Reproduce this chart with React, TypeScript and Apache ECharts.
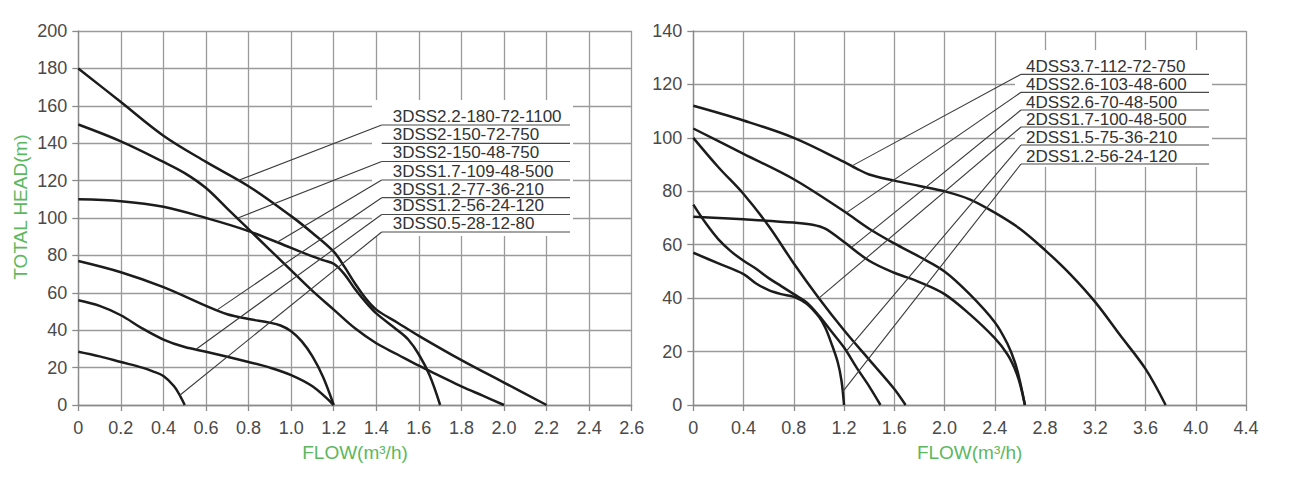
import React, { useEffect, useRef } from "react";
import * as echarts from "echarts";

// ---------- DATA ----------
const xTicksLeft = ["0", "0.2", "0.4", "0.6", "0.8", "1.0", "1.2", "1.4", "1.6", "1.8", "2.0", "2.2", "2.4", "2.6"];
const yTicksLeft = ["0", "20", "40", "60", "80", "100", "120", "140", "160", "180", "200"];
const xTicksRight = ["0", "0.4", "0.8", "1.2", "1.6", "2.0", "2.4", "2.8", "3.2", "3.6", "4.0", "4.4"];
const yTicksRight = ["0", "20", "40", "60", "80", "100", "120", "140"];

const xAxisName = "FLOW(m³/h)";
const yAxisName = "TOTAL HEAD(m)";

// Left chart curves [flow, head]
const c3DSS22_180 = [[0, 180], [0.2, 162], [0.4, 144], [0.6, 130], [0.8, 117], [1.0, 101], [1.1, 92], [1.2, 82], [1.25, 74], [1.3, 65], [1.35, 57], [1.4, 51], [1.5, 44], [1.6, 37], [1.8, 24], [2.0, 12], [2.2, 0]];
const c3DSS2_150 = [[0, 150], [0.2, 141], [0.4, 130], [0.5, 124], [0.6, 116], [0.7, 105], [0.8, 94], [0.9, 83], [1.0, 72], [1.1, 61], [1.2, 51], [1.3, 41], [1.4, 33], [1.5, 27], [1.6, 21], [1.7, 15.5], [1.8, 10], [1.9, 5], [2.0, 0]];
const c3DSS17_109 = [[0, 110], [0.2, 109], [0.4, 106], [0.6, 100], [0.8, 93], [1.0, 84], [1.1, 79.5], [1.15, 77.5], [1.2, 75.5], [1.25, 70], [1.3, 62], [1.35, 55], [1.4, 49], [1.5, 40], [1.55, 35], [1.6, 27], [1.65, 16], [1.7, 0]];
const c3DSS12_77 = [[0, 77], [0.2, 71], [0.4, 63], [0.6, 53], [0.7, 48.5], [0.8, 46], [0.9, 44], [0.95, 42.5], [1.0, 39.5], [1.05, 34], [1.1, 26], [1.15, 15], [1.2, 0]];
const c3DSS12_56 = [[0, 56], [0.1, 53], [0.2, 48], [0.3, 41], [0.4, 35], [0.5, 31], [0.6, 28.5], [0.8, 23], [0.9, 20], [1.0, 16], [1.1, 10], [1.2, 0]];
const c3DSS05_28 = [[0, 28.5], [0.1, 26], [0.2, 23], [0.3, 20], [0.35, 18], [0.4, 15.5], [0.45, 10], [0.48, 4.5], [0.5, 0]];

// Right chart curves [flow, head]
const c4DSS37_112 = [[0, 112], [0.4, 106.5], [0.8, 100], [1.2, 91], [1.3, 88.5], [1.4, 86.3], [1.6, 84], [1.8, 82], [2.0, 80], [2.2, 77], [2.4, 72], [2.6, 66], [2.8, 58], [3.0, 49], [3.2, 38.5], [3.4, 26], [3.6, 13.5], [3.76, 0]];
const c4DSS26_103 = [[0, 103.5], [0.4, 94], [0.8, 84.5], [1.2, 72.5], [1.4, 66], [1.6, 60.5], [1.8, 55.5], [2.0, 50], [2.2, 41.5], [2.4, 31], [2.5, 23], [2.56, 16], [2.6, 9], [2.64, 0]];
const c4DSS26_70 = [[0, 70.5], [0.4, 69.5], [0.8, 68.3], [0.95, 67.5], [1.05, 66], [1.2, 61], [1.4, 54], [1.6, 49.5], [1.8, 46], [2.0, 41.5], [2.2, 34], [2.4, 25], [2.5, 19], [2.56, 13.5], [2.6, 8], [2.64, 0]];
const c2DSS17_100 = [[0, 100], [0.2, 89], [0.4, 79], [0.6, 67], [0.8, 53], [1.0, 40], [1.2, 28], [1.4, 17], [1.6, 6], [1.69, 0]];
const c2DSS15_75 = [[0, 75], [0.1, 68], [0.2, 62], [0.3, 57.5], [0.4, 54], [0.5, 51], [0.6, 47.5], [0.7, 44.5], [0.8, 41.5], [0.9, 38.5], [1.0, 33.5], [1.1, 27.5], [1.2, 21.5], [1.3, 14], [1.4, 7], [1.49, 0]];
const c2DSS12_56 = [[0, 57], [0.2, 53], [0.4, 49], [0.5, 45.5], [0.6, 43], [0.7, 41.5], [0.8, 40.5], [0.9, 38], [1.0, 33], [1.05, 29], [1.1, 23], [1.15, 16], [1.18, 9], [1.2, 0]];

const leftCurves = [c3DSS22_180, c3DSS2_150, c3DSS17_109, c3DSS12_77, c3DSS12_56, c3DSS05_28];
const rightCurves = [c4DSS37_112, c4DSS26_103, c4DSS26_70, c2DSS17_100, c2DSS15_75, c2DSS12_56];

const leftLabels = ["3DSS2.2-180-72-1100", "3DSS2-150-72-750", "3DSS2-150-48-750", "3DSS1.7-109-48-500", "3DSS1.2-77-36-210", "3DSS1.2-56-24-120", "3DSS0.5-28-12-80"];
const rightLabels = ["4DSS3.7-112-72-750", "4DSS2.6-103-48-600", "4DSS2.6-70-48-500", "2DSS1.7-100-48-500", "2DSS1.5-75-36-210", "2DSS1.2-56-24-120"];

// leader: [label row, flow, head] – the point on the curve the leader points at
const leftLeaders = [[0, 0.75, 120], [2, 0.75, 100], [3, 0.93, 86.8], [4, 0.654, 51], [5, 0.552, 29.7], [6, 0.477, 5.2]];
const rightLeaders = [[0, 1.267, 89.6], [1, 1.22, 72], [2, 1.26, 59], [3, 1.0, 40], [4, 1.22, 20.3], [5, 1.19, 5]];

// ---------- LAYOUT ----------
const GREEN = "#5cb860";
const GRID_COLOR = "#9a9a9a";
const FONT = "Liberation Sans, Arial, sans-serif";

const LEFT_BOX = { x: 372, y: 100, w: 201, h: 136, lineX0: 381.7, lineX1: 570, textX: 392.7, under: [125, 143.3, 161.5, 180, 197.7, 214.5, 232] };
const RIGHT_BOX = { x: 1015, y: 50, w: 197, h: 117, lineX0: 1021, lineX1: 1209, textX: 1026, under: [74.3, 92.3, 110, 127, 145, 164] };

function makeX(gridIndex: number, max: number, interval: number, labels: string[]) {
  return {
    type: "value",
    gridIndex,
    min: 0,
    max,
    interval,
    name: xAxisName,
    nameLocation: "middle",
    nameGap: 38,
    nameTextStyle: { color: GREEN, fontSize: 19, fontFamily: FONT },
    axisLine: { show: true, onZero: false, lineStyle: { color: "#8a8a8a", width: 1.3 } },
    axisTick: { show: true, inside: false, length: 6, lineStyle: { color: "#8a8a8a", width: 1.3 } },
    splitLine: { show: true, lineStyle: { color: GRID_COLOR, width: 1.3 } },
    axisLabel: {
      show: true,
      margin: 14,
      fontSize: 18,
      color: "#4a4a4a",
      fontFamily: FONT,
      showMinLabel: true,
      showMaxLabel: true,
      formatter: (v: number) => labels[Math.round(v / interval)] ?? "",
    },
  };
}

function makeY(gridIndex: number, max: number, interval: number, labels: string[]) {
  return {
    type: "value",
    gridIndex,
    min: 0,
    max,
    interval,
    axisLine: { show: true, onZero: false, lineStyle: { color: "#8a8a8a", width: 1.3 } },
    axisTick: { show: true, inside: false, length: 6, lineStyle: { color: "#8a8a8a", width: 1.3 } },
    splitLine: { show: true, lineStyle: { color: GRID_COLOR, width: 1.3 } },
    axisLabel: {
      show: true,
      margin: 11,
      fontSize: 18,
      color: "#4a4a4a",
      fontFamily: FONT,
      showMinLabel: true,
      showMaxLabel: true,
      formatter: (v: number) => labels[Math.round(v / interval)] ?? "",
    },
  };
}

function curveSeries(data: number[][], idx: number, name: string) {
  return {
    type: "line",
    name,
    xAxisIndex: idx,
    yAxisIndex: idx,
    data,
    smooth: 0.35,
    showSymbol: false,
    symbol: "none",
    z: 3,
    lineStyle: { color: "#1c1c1c", width: 2.5 },
  };
}

export default function App() {
  const ref = useRef<HTMLDivElement>(null);
  useEffect(() => {
    if (!ref.current) return;
    const chart = echarts.init(ref.current, null, { renderer: "svg" });
    chart.setOption({
      animation: false,
      backgroundColor: "#ffffff",
      textStyle: { fontFamily: FONT },
      grid: [
        { left: 78.3, top: 31, width: 553.4, height: 374, containLabel: false },
        { left: 693.3, top: 31, width: 552.7, height: 374, containLabel: false },
      ],
      xAxis: [makeX(0, 2.6, 0.2, xTicksLeft), makeX(1, 4.4, 0.4, xTicksRight)],
      yAxis: [makeY(0, 200, 20, yTicksLeft), makeY(1, 140, 20, yTicksRight)],
      series: [
        ...leftCurves.map((d, i) => curveSeries(d, 0, "L" + i)),
        ...rightCurves.map((d, i) => curveSeries(d, 1, "R" + i)),
      ],
    });

    const graphics: any[] = [];
    const addBlock = (box: typeof LEFT_BOX, labels: string[], leaders: number[][], gridIndex: number, textOffset: number) => {
      graphics.push({
        type: "rect",
        z: 1,
        shape: { x: box.x, y: box.y, width: box.w, height: box.h },
        style: { fill: "#ffffff" },
        silent: true,
      });
      labels.forEach((t, i) => {
        const uy = box.under[i];
        graphics.push({
          type: "line",
          z: 5,
          shape: { x1: box.lineX0, y1: uy, x2: box.lineX1, y2: uy },
          style: { stroke: "#4a4a4a", lineWidth: 1.2 },
          silent: true,
        });
        graphics.push({
          type: "text",
          z: 6,
          x: box.textX,
          y: uy - textOffset,
          style: {
            text: t,
            fill: "#333333",
            font: `17px ${FONT}`,
            textAlign: "left",
            textVerticalAlign: "middle",
          },
          silent: true,
        });
      });
      leaders.forEach(([row, fx, fy]) => {
        const p = chart.convertToPixel({ gridIndex }, [fx, fy]) as number[];
        const uy = box.under[row];
        graphics.push({
          type: "line",
          z: 5,
          shape: { x1: box.lineX0, y1: uy, x2: p[0], y2: p[1] },
          style: { stroke: "#3a3a3a", lineWidth: 1.1 },
          silent: true,
        });
      });
    };
    addBlock(LEFT_BOX, leftLabels, leftLeaders, 0, 8.7);
    addBlock(RIGHT_BOX, rightLabels, rightLeaders, 1, 8);

    graphics.push({
      type: "text",
      z: 6,
      x: 20,
      y: 207,
      rotation: Math.PI / 2,
      style: {
        text: yAxisName,
        fill: GREEN,
        font: `19px ${FONT}`,
        textAlign: "center",
        textVerticalAlign: "middle",
      },
      silent: true,
    });

    chart.setOption({ graphic: graphics });
    return () => chart.dispose();
  }, []);
  return <div ref={ref} style={{ position: "fixed", left: 0, top: 0, width: 1300, height: 483, background: "#fff" }} />;
}
